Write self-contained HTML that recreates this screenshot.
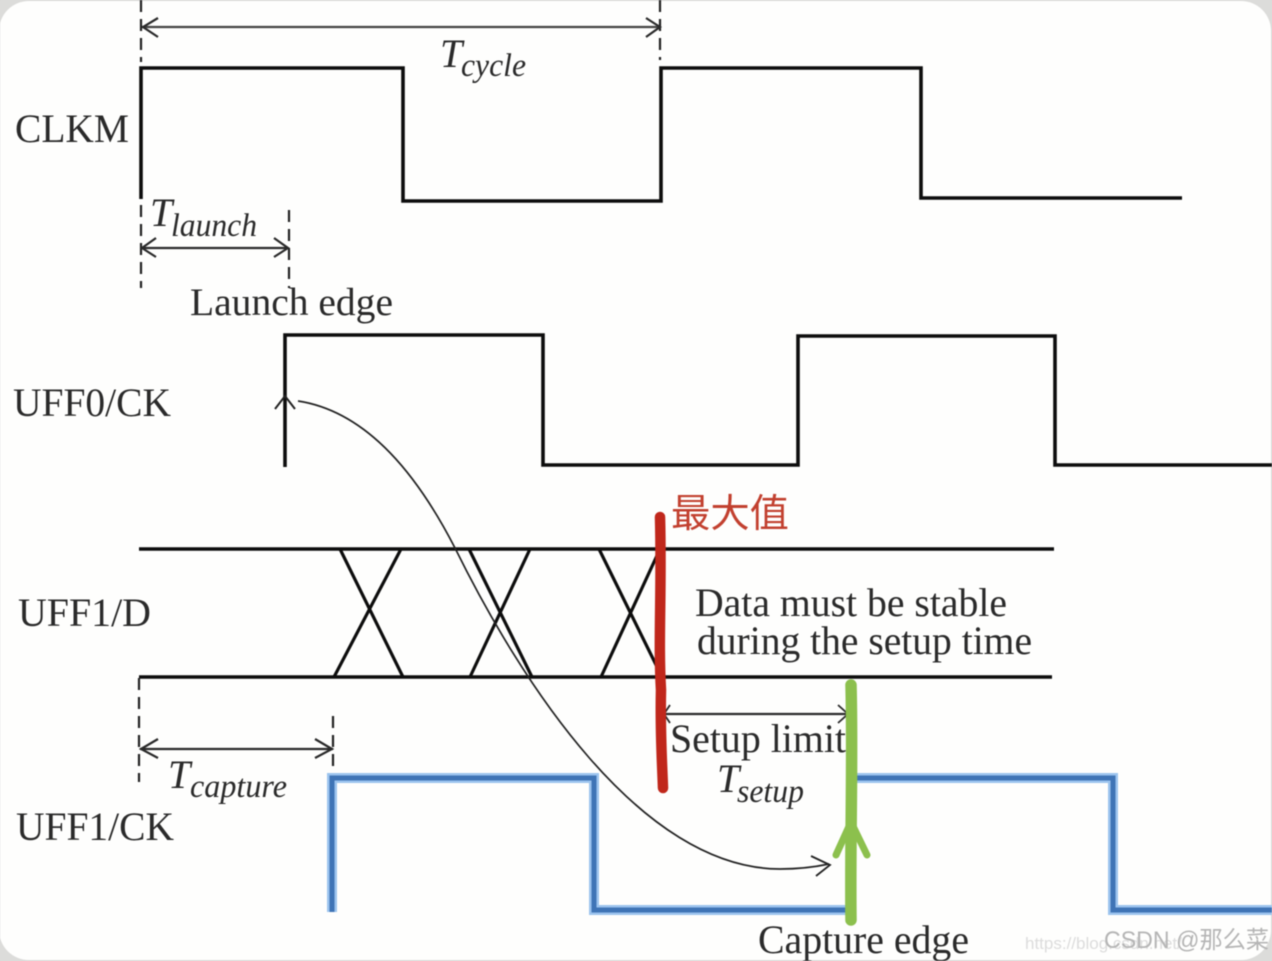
<!DOCTYPE html>
<html><head><meta charset="utf-8"><style>
html,body{margin:0;padding:0;background:#d9d9d7;width:1272px;height:961px;overflow:hidden}
svg{display:block;filter:blur(0.55px)}
text{font-family:"Liberation Serif","Noto Serif CJK SC",serif;fill:#2a2a2a}
.i{font-style:italic}
</style></head><body>
<svg width="1272" height="961" viewBox="0 0 1272 961" xmlns="http://www.w3.org/2000/svg">
<rect x="0" y="0" width="1272" height="961" fill="#dcdcda"/>
<rect x="-1" y="1" width="1272" height="959" rx="30" ry="30" fill="#fefefd"/>

<!-- clocks -->
<g fill="none" stroke="#0d0d0d" stroke-width="3.6" stroke-linejoin="miter">
<path d="M141 199V68H403V201H661V68H921V198H1182"/>
<path d="M285 467V335H543V465H798V336H1055V465H1272"/>
<path d="M139 549H1054" stroke-width="3.4"/>
<path d="M139 677H1052" stroke-width="3.4"/>
<path d="M340 549L403 677M401 549L334 677M469 549L532 677M530 549L470 677M599 549L662 677M660 549L601 677" stroke-width="3.2"/>
</g>
<path d="M275 409L285 396L295 409" fill="none" stroke="#222" stroke-width="2"/>

<!-- dashed -->
<g fill="none" stroke="#222" stroke-width="2.2" stroke-dasharray="12 7">
<path d="M141 0V62"/>
<path d="M660 0V60"/>
<path d="M141 205V288"/>
<path d="M289 210V288"/>
<path d="M139 678V782"/>
<path d="M333 716V772"/>
</g>

<!-- dimension arrows -->
<g fill="none" stroke="#2a2a2a" stroke-width="2.2">
<path d="M142 27H660" stroke="#444"/>
<path d="M158 18L143 27L158 37M646 18L660 27L646 37"/>
<path d="M142 248H288"/>
<path d="M156 238L142 248L156 257M274 238L288 248L274 257"/>
<path d="M140 749H333"/>
<path d="M158 739L141 749L158 758M315 739L332 749L315 758"/>
<path d="M664 714H848"/>
<path d="M670 705L664 714L670 723M838 705L848 714L838 723" stroke-width="1.8"/>
</g>

<!-- curve -->
<path d="M298 401C370 412 420 480 455 548C520 680 640 869 780 869C798 869 815 867 829 864" fill="none" stroke="#222" stroke-width="1.7"/>
<path d="M811 856L830 865L816 876" fill="none" stroke="#222" stroke-width="1.8"/>

<!-- blue -->
<g fill="none" stroke-linejoin="miter">
<path d="M332 912V778H594V910H850M850 778H1113V910H1272" stroke="#9cc4ee" stroke-width="10"/>
<path d="M332 912V778H594V910H850M850 778H1113V910H1272" stroke="#3f74b6" stroke-width="5"/>
</g>

<!-- red -->
<path d="M660 517C662 590 658 640 661 690C660 730 662 760 663 788" fill="none" stroke="#c0271b" stroke-width="10.5" stroke-linecap="round"/>
<!-- green -->
<path d="M851 685C853 760 850 840 851 920" fill="none" stroke="#8cc04d" stroke-width="11.5" stroke-linecap="round"/>
<path d="M836 855L851 822L867 855" fill="none" stroke="#8cc04d" stroke-width="7" stroke-linecap="round" stroke-linejoin="round"/>

<!-- labels -->
<text x="15" y="142" font-size="40" textLength="114" lengthAdjust="spacingAndGlyphs">CLKM</text>
<text x="13" y="416" font-size="40" textLength="158" lengthAdjust="spacingAndGlyphs">UFF0/CK</text>
<text x="18" y="626" font-size="40" textLength="133" lengthAdjust="spacingAndGlyphs">UFF1/D</text>
<text x="16" y="840" font-size="40" textLength="158" lengthAdjust="spacingAndGlyphs">UFF1/CK</text>
<text x="190" y="315" font-size="39" textLength="203" lengthAdjust="spacingAndGlyphs">Launch edge</text>
<text x="695" y="616" font-size="40" textLength="312" lengthAdjust="spacingAndGlyphs">Data must be stable</text>
<text x="697" y="654" font-size="40" textLength="335" lengthAdjust="spacingAndGlyphs">during the setup time</text>
<text x="670" y="752" font-size="40" textLength="176" lengthAdjust="spacingAndGlyphs">Setup limit</text>
<text x="758" y="953" font-size="40" textLength="211" lengthAdjust="spacingAndGlyphs">Capture edge</text>

<text class="i" x="440" y="67" font-size="40">T</text>
<text class="i" x="461" y="76" font-size="33" textLength="65" lengthAdjust="spacingAndGlyphs">cycle</text>
<text class="i" x="150" y="226" font-size="40">T</text>
<text class="i" x="171" y="236" font-size="33" textLength="86" lengthAdjust="spacingAndGlyphs">launch</text>
<text class="i" x="168" y="788" font-size="40">T</text>
<text class="i" x="190" y="797" font-size="33" textLength="97" lengthAdjust="spacingAndGlyphs">capture</text>
<text class="i" x="717" y="792" font-size="40">T</text>
<text class="i" x="737" y="802" font-size="33" textLength="67" lengthAdjust="spacingAndGlyphs">setup</text>

<text x="671" y="527" font-size="39" style="font-family:'Noto Sans CJK SC',sans-serif;fill:#c2402f" textLength="118" lengthAdjust="spacingAndGlyphs">最大值</text>

<text x="1025" y="949" font-size="17" style="font-family:'Liberation Sans',sans-serif;fill:#dcdcdc">https://blog.csdn.net/</text>
<text x="1104" y="948" font-size="24" style="font-family:'Liberation Sans','Noto Sans CJK SC',sans-serif;fill:#b5b5b5" textLength="165" lengthAdjust="spacingAndGlyphs">CSDN @那么菜</text>
</svg>
</body></html>
